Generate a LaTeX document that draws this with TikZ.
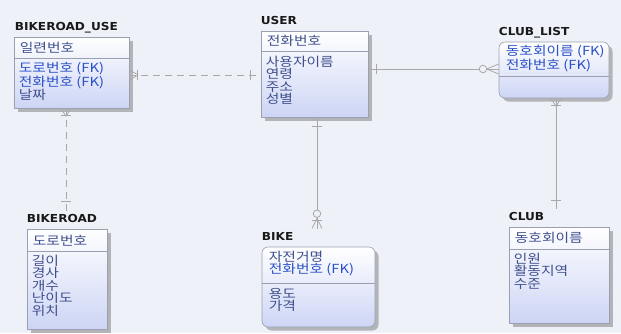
\documentclass[tikz,border=0pt]{standalone}
\usepackage{fontspec}
\setmainfont{DejaVu Sans}
\newfontfamily\kr[FakeStretch=1.18]{Noto Sans CJK KR}
\newfontfamily\ttlfont[FakeStretch=1.1]{DejaVu Sans}
\usetikzlibrary{calc,shadows}
\definecolor{bg}{HTML}{EEF2F8}
\definecolor{boxline}{HTML}{9AA0B0}
\definecolor{boxbot}{HTML}{CDD5F5}
\definecolor{attr}{HTML}{3F4F8C}
\definecolor{fk}{HTML}{2A50C8}
\definecolor{relc}{HTML}{A8A8A8}
\begin{document}
\begin{tikzpicture}[x=1pt,y=-1pt,
  ent/.style={draw=boxline, line width=0.6pt, top color=white, bottom color=boxbot,
    inner sep=0pt, drop shadow={shadow xshift=3.5pt, shadow yshift=-3.5pt, fill=black!45, opacity=0.6}},
  rent/.style={ent, rounded corners=6pt},
  ttl/.style={font=\ttlfont\bfseries\fontsize{11}{12}\selectfont, text=black!90, inner sep=0pt, anchor=base west},
  keytxt/.style={font=\kr\fontsize{12.5}{12.5}\selectfont, text=attr, inner sep=0pt, anchor=west, align=left},
  attrtxt/.style={font=\kr\fontsize{12.5}{12.5}\selectfont, text=attr, inner sep=0pt, anchor=north west, align=left},
  divl/.style={draw=boxline, line width=0.5pt},
  rel/.style={draw=relc, line width=0.8pt},
  dsh/.style={dash pattern=on 7pt off 5pt}
]
\useasboundingbox[fill=bg] (0,0) rectangle (621,333);

% ---------- entities ----------
\node[ent, minimum width=115pt, minimum height=71pt] (bru) at (71.5,72.5) {};
\node[ent, minimum width=107pt, minimum height=86pt] (user) at (314.5,74) {};
\node[rent, minimum width=110pt, minimum height=56pt] (cl) at (554,70) {};
\node[ent, minimum width=80pt, minimum height=100pt] (br) at (67,279) {};
\node[rent, minimum width=113pt, minimum height=80pt] (bike) at (318.5,287) {};
\node[ent, minimum width=100pt, minimum height=96pt] (club) at (559,275) {};

% titles
\node[ttl] (brut) at ($(bru.north west)+(1,-6)$) {BIKEROAD\_USE};
\node[ttl] (usert) at ($(user.north west)+(0,-6)$) {USER};
\node[ttl] (clt) at ($(cl.north west)+(0,-6)$) {CLUB\_LIST};
\node[ttl] (brt) at ($(br.north west)+(0,-6)$) {BIKEROAD};
\node[ttl] (biket) at ($(bike.north west)+(0,-6)$) {BIKE};
\node[ttl] (clubt) at ($(club.north west)+(0,-6)$) {CLUB};

% dividers
\draw[divl] ($(bru.north west)+(0,22)$) -- ($(bru.north east)+(0,22)$);
\draw[divl] ($(user.north west)+(0,21)$) -- ($(user.north east)+(0,21)$);
\draw[divl] ($(cl.north west)+(0,35)$) -- ($(cl.north east)+(0,35)$);
\draw[divl] ($(br.north west)+(0,23)$) -- ($(br.north east)+(0,23)$);
\draw[divl] ($(bike.north west)+(0,37)$) -- ($(bike.north east)+(0,37)$);
\draw[divl] ($(club.north west)+(0,23)$) -- ($(club.north east)+(0,23)$);

% texts
\node[keytxt] (bruk) at ($(bru.north west)+(6,11)$) {일련번호};
\node[attrtxt] (brua) at ($(bru.north west)+(5,25)$) {\textcolor{fk}{도로번호 (FK)}\\\textcolor{fk}{전화번호 (FK)}\\날짜};
\node[keytxt] (userk) at ($(user.north west)+(6,10.5)$) {전화번호};
\node[attrtxt] (usera) at ($(user.north west)+(5,25)$) {사용자이름\\연령\\주소\\성별};
\node[attrtxt] (clk) at ($(cl.north west)+(7,3)$) {\textcolor{fk}{동호회이름 (FK)}\\\textcolor{fk}{전화번호 (FK)}};
\node[keytxt] (brk) at ($(br.north west)+(6,11.5)$) {도로번호};
\node[attrtxt] (bra) at ($(br.north west)+(5,26)$) {길이\\경사\\개수\\난이도\\위치};
\node[attrtxt] (bikek) at ($(bike.north west)+(7,4)$) {자전거명\\\textcolor{fk}{전화번호 (FK)}};
\node[attrtxt] (bikea) at ($(bike.north west)+(7,41)$) {용도\\가격};
\node[keytxt] (clubk) at ($(club.north west)+(6,11.5)$) {동호회이름};
\node[attrtxt] (cluba) at ($(club.north west)+(5,26)$) {인원\\활동지역\\수준};

% ---------- relationships ----------
% BIKEROAD_USE -- USER (dashed)
\coordinate (a1) at ($(bru.east)+(0,2.5)$);
\coordinate (b1) at ($(user.west)+(0,1)$);
\draw[rel,dsh] (a1) -- (b1);
\draw[rel] ($(a1)+(8,-5)$) -- ($(a1)+(8,5)$);
\draw[rel] ($(a1)+(9,0)$) -- ($(a1)+(0,-5)$) ($(a1)+(9,0)$) -- ($(a1)+(0,5)$);
\draw[rel] ($(b1)+(-10,-5)$) -- ($(b1)+(-10,5)$);

% USER -- CLUB_LIST
\coordinate (a2) at ($(user.east)+(0,-5)$);
\coordinate (b2) at ($(cl.west)+(0,-1)$);
\draw[rel] (a2) -- ($(b2)+(-19.5,0)$);
\draw[rel] ($(b2)+(-12,0)$) -- (b2);
\draw[rel] ($(a2)+(8,-5)$) -- ($(a2)+(8,5)$);
\draw[rel] ($(b2)+(-15.75,0)$) circle (3.75pt);
\draw[rel] ($(b2)+(-12,0)$) -- ($(b2)+(0,-5)$) ($(b2)+(-12,0)$) -- ($(b2)+(0,5)$);

% BIKEROAD_USE -- BIKEROAD (dashed)
\coordinate (a3) at ($(bru.south)+(-5.5,0)$);
\coordinate (b3t) at ($(brt.north)+(0,-3)$);
\coordinate (b3) at (a3 |- b3t);
\draw[rel,dsh] (a3) -- (b3);
\draw[rel] ($(a3)+(-5,7)$) -- ($(a3)+(5,7)$);
\draw[rel] ($(a3)+(0,8)$) -- ($(a3)+(-5,0)$) ($(a3)+(0,8)$) -- ($(a3)+(5,0)$);
\draw[rel] ($(b3)+(-5,-10)$) -- ($(b3)+(5,-10)$);

% USER -- BIKE
\coordinate (a4) at ($(user.south)+(2.5,0)$);
\coordinate (b4t) at ($(biket.north)+(0,-3)$);
\coordinate (b4) at (a4 |- b4t);
\draw[rel] (a4) -- ($(b4)+(0,-19.5)$);
\draw[rel] ($(b4)+(0,-12)$) -- (b4);
\draw[rel] ($(a4)+(-5,9)$) -- ($(a4)+(5,9)$);
\draw[rel] ($(b4)+(0,-15.75)$) circle (3.75pt);
\draw[rel] ($(b4)+(0,-11)$) -- ($(b4)+(-5,-1)$) ($(b4)+(0,-11)$) -- ($(b4)+(5,-1)$);
\draw[rel] ($(b4)+(-5,-9)$) -- ($(b4)+(5,-9)$);

% CLUB_LIST -- CLUB
\coordinate (a5) at ($(cl.south)+(2,0)$);
\coordinate (b5t) at ($(clubt.north)+(0,-3)$);
\coordinate (b5) at (a5 |- b5t);
\draw[rel] (a5) -- (b5);
\draw[rel] ($(a5)+(-5,7)$) -- ($(a5)+(5,7)$);
\draw[rel] ($(a5)+(0,8)$) -- ($(a5)+(-5,0)$) ($(a5)+(0,8)$) -- ($(a5)+(5,0)$);
\draw[rel] ($(b5)+(-5,-9)$) -- ($(b5)+(5,-9)$);
\end{tikzpicture}
\end{document}
